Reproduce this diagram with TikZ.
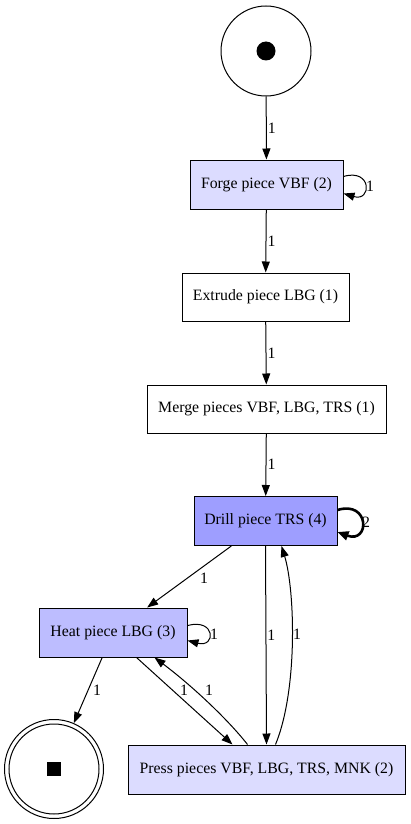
\documentclass[tikz,border=0pt]{standalone}
\usepackage{fontspec}
\setmainfont{Liberation Serif}
\usetikzlibrary{arrows.meta,calc}
\definecolor{lightv}{RGB}{220,220,255}
\definecolor{midv}{RGB}{189,189,255}
\definecolor{darkv}{RGB}{158,158,255}
\tikzset{
  box/.style={draw, line width=1pt, rectangle, inner sep=0pt, font=\fontsize{15.8pt}{18pt}\selectfont},
  place/.style={draw, line width=1pt, circle, inner sep=0pt},
  arc/.style={line width=1pt, -{Triangle[length=11pt,width=8pt]}},
  thickarc/.style={line width=2.6pt, -{Triangle[length=11pt,width=9pt]}},
  lbl/.style={font=\fontsize{15.8pt}{18pt}\selectfont, inner sep=1pt}
}
\begin{document}
\begin{tikzpicture}[x=1pt,y=-1pt]
\useasboundingbox (0,0) rectangle (410,824);
\fill[white] (0,0) rectangle (410,824);
% places
\node[place, minimum size=90pt] (start) at (266,51) {};
\fill (start.center) circle (9.5pt);
\node[place, minimum size=99pt] (end) at (54,769) {};
\node[place, minimum size=90pt] (endin) at (54,769) {};
\fill ($(end.center)+(-7,-7)$) rectangle ($(end.center)+(7,7)$);
% transitions
\node[box, fill=lightv, minimum width=153pt, minimum height=49pt] (forge) at (266.5,184.5) {Forge piece VBF (2)};
\node[box, fill=white, minimum width=167pt, minimum height=48pt] (extrude) at (265.5,297) {Extrude piece LBG (1)};
\node[box, fill=white, minimum width=239pt, minimum height=48pt] (merge) at (266.5,409) {Merge pieces VBF, LBG, TRS (1)};
\node[box, fill=darkv, minimum width=143pt, minimum height=49pt] (drill) at (265.5,521) {Drill piece TRS (4)};
\node[box, fill=midv, minimum width=148pt, minimum height=49pt] (heat) at (113,632.5) {Heat piece LBG (3)};
\node[box, fill=lightv, minimum width=277pt, minimum height=49pt] (press) at (266.5,769.5) {Press pieces VBF, LBG, TRS, MNK (2)};
% straight arcs
\draw[arc] (start) -- (forge) node[lbl, pos=.5, right] {1};
\draw[arc] (forge) -- (extrude) node[lbl, pos=.5, right] {1};
\draw[arc] (extrude) -- (merge) node[lbl, pos=.5, right] {1};
\draw[arc] (merge) -- (drill) node[lbl, pos=.5, right] {1};
\draw[arc] (drill) -- (heat);
\node[lbl] at (204,578) {1};
\draw[arc] (drill.south) -- (press.north) node[lbl, pos=.45, right] {1};
\draw[arc] (heat) -- (end);
\node[lbl] at (97,690) {1};
\draw[arc] ($(heat.south west)+(98,0)$) -- ($(press.north west)+(105,0)$);
\node[lbl] at (184,690) {1};
\draw[arc] ($(press.north west)+(120,0)$) .. controls (230,722) and (195,688) .. ($(heat.south west)+(116,0)$);
\node[lbl] at (209,690) {1};
\draw[arc] ($(press.north west)+(148,0)$) .. controls (298,690) and (295,590) .. ($(drill.south west)+(88,0)$);
\node[lbl] at (297,634) {1};
% self loops
\draw[arc] ($(forge.east)+(0,-8)$) .. controls (372,168) and (372,202) .. ($(forge.east)+(0,9)$);
\node[lbl] at (370,186) {1};
\draw[thickarc] ($(drill.east)+(0,-11)$) .. controls (370,500) and (370,544) .. ($(drill.east)+(0,11)$);
\node[lbl] at (366,522) {2};
\draw[arc] ($(heat.east)+(0,-7)$) .. controls (216,618) and (216,648) .. ($(heat.east)+(0,8)$);
\node[lbl] at (214,634) {1};
\end{tikzpicture}
\end{document}
